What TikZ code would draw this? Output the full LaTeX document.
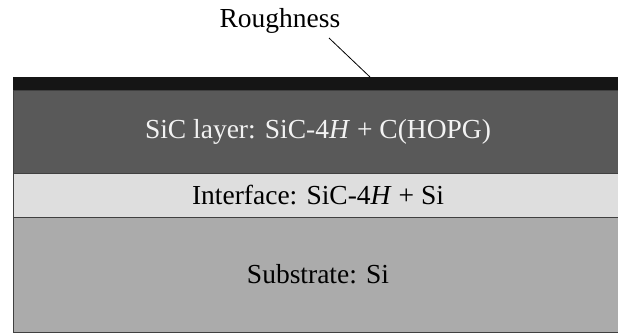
\documentclass[tikz,border=0pt]{standalone}
\usepackage{fontspec}
\setmainfont{Liberation Serif}
\usetikzlibrary{positioning}
\definecolor{roughblack}{HTML}{151515}
\definecolor{sicgray}{HTML}{595959}
\definecolor{intergray}{HTML}{DEDEDE}
\definecolor{subgray}{HTML}{ABABAB}

\begin{document}
\begin{tikzpicture}[x=1pt,y=-1pt,
  layer/.style={draw=black!75,line width=1pt,minimum width=610pt,inner sep=0pt,outer sep=0pt,
    font=\fontsize{27.5}{33}\selectfont}]
  \useasboundingbox[fill=white] (0,0) rectangle (618,332);
  \node[layer,fill=roughblack,draw=roughblack,minimum height=13pt,anchor=north west] (rough) at (13,77) {};
  \node[layer,fill=sicgray,text=white!95!black,minimum height=83pt] (sic) [below=0pt of rough] {SiC layer: SiC-4\textit{H} + C(HOPG)};
  \node[layer,fill=intergray,minimum height=44pt] (inter) [below=0pt of sic] {Interface: SiC-4\textit{H} + Si};
  \node[layer,fill=subgray,minimum height=115pt] (sub) [below=0pt of inter] {Substrate: Si};
  \node[font=\fontsize{27.5}{33}\selectfont] (label) at (280,21) {Roughness};
  \coordinate (foot) at (329,38);
  \coordinate (tip) at (370,77);
  \draw[line width=0.8pt] (foot) -- (tip);
\end{tikzpicture}
\end{document}
